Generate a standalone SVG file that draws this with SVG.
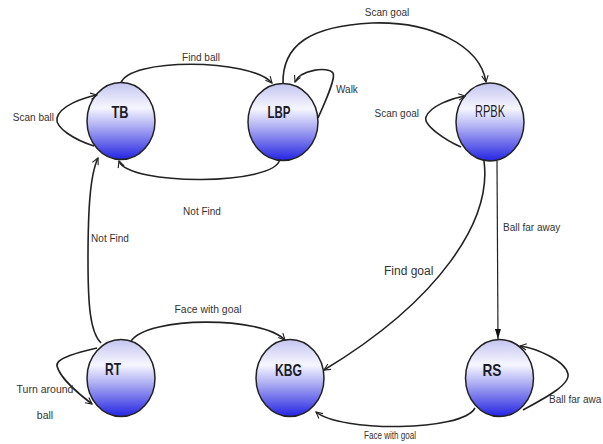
<svg xmlns="http://www.w3.org/2000/svg" width="603" height="444" viewBox="0 0 603 444">
  <defs>
    <linearGradient id="stateFill" x1="0" y1="0" x2="0" y2="1">
      <stop offset="0" stop-color="#c4c4f0"/>
      <stop offset="0.33" stop-color="#f6f6ff"/>
      <stop offset="0.55" stop-color="#b4b4f4"/>
      <stop offset="1" stop-color="#2424e2"/>
    </linearGradient>
    <marker id="arr" viewBox="0 0 10 10" refX="9" refY="5" markerWidth="8" markerHeight="8" orient="auto" markerUnits="userSpaceOnUse">
      <path d="M1,1 L9,5 L1,9" fill="none" stroke="#222" stroke-width="1.4"/>
    </marker>
    <marker id="arrFill" viewBox="0 0 10 6" refX="10" refY="3" markerWidth="10" markerHeight="6" orient="auto" markerUnits="userSpaceOnUse">
      <path d="M0,0 L10,3 L0,6 z" fill="#111"/>
    </marker>
  </defs>
  <style>
    .state { fill: url(#stateFill); stroke: #222; stroke-width: 1.5; }
    .name { font-family: "Liberation Sans", Arial, sans-serif; font-size: 17px; font-weight: bold; fill: #1c1c2a; text-anchor: middle; }
    .name.thin { font-weight: normal; }
    .edge { fill: none; stroke: #222; stroke-width: 1.6; marker-end: url(#arr); }
    .edge.solid { stroke-width: 1.2; marker-end: url(#arrFill); }
    .lbl { font-family: "Liberation Sans", Arial, sans-serif; font-size: 10px; fill: #333; }
  </style>

  <rect width="603" height="444" fill="#ffffff"/>

  <!-- states -->
  <g id="TB">
    <ellipse class="state" cx="121" cy="121" rx="34" ry="38.5"/>
    <text class="name" x="120" y="118" textLength="17" lengthAdjust="spacingAndGlyphs">TB</text>
  </g>
  <g id="LBP">
    <ellipse class="state" cx="283" cy="122" rx="35" ry="38.5"/>
    <text class="name" x="279" y="118" textLength="23" lengthAdjust="spacingAndGlyphs">LBP</text>
  </g>
  <g id="RPBK">
    <ellipse class="state" cx="490" cy="122" rx="34" ry="39"/>
    <text class="name thin" x="490" y="117" textLength="30" lengthAdjust="spacingAndGlyphs">RPBK</text>
  </g>
  <g id="RT">
    <ellipse class="state" cx="121" cy="378" rx="34" ry="38.5"/>
    <text class="name" x="113" y="375" textLength="16" lengthAdjust="spacingAndGlyphs">RT</text>
  </g>
  <g id="KBG">
    <ellipse class="state" cx="290" cy="378" rx="34" ry="38.5"/>
    <text class="name" x="288.5" y="376" textLength="27" lengthAdjust="spacingAndGlyphs">KBG</text>
  </g>
  <g id="RS">
    <ellipse class="state" cx="499.5" cy="378" rx="34" ry="38.5"/>
    <text class="name" x="492" y="376" textLength="19" lengthAdjust="spacingAndGlyphs">RS</text>
  </g>

  <!-- transitions -->
  <g id="connectors">
    <!-- TB -> LBP -->
    <path class="edge" d="M121,83 C128,58 250,58 272,83"/>
    <!-- LBP -> TB -->
    <path class="edge" d="M280,159 C276,186 128,186 119,161"/>
    <!-- TB self loop -->
    <path class="edge" d="M94,146 C75,140 55,128 57,118 C60,106 82,98 97,95"/>
    <!-- LBP self loop -->
    <path class="edge" d="M318,118 C326,100 336,78 333,73 C328,66 300,70 295,82"/>
    <!-- LBP -> RPBK -->
    <path class="edge" d="M283,84 C282,45 310,26 372,23 C430,21 480,45 486,82"/>
    <!-- RPBK self loop -->
    <path class="edge" d="M461,147 C445,140 423,125 426,117 C430,106 452,98 465,96"/>
    <!-- RPBK -> KBG -->
    <path class="edge" d="M484,161 C492,220 440,300 324,370"/>
    <!-- RPBK -> RS -->
    <path class="edge solid" d="M497,161 L498,339"/>
    <!-- RS self loop -->
    <path class="edge" d="M523,410 C545,398 570,385 568,374 C565,360 535,348 520,346"/>
    <!-- RS -> KBG -->
    <path class="edge" d="M475,408 C462,432 340,432 316,412"/>
    <!-- RT -> KBG -->
    <path class="edge" d="M131,341 C148,316 262,316 285,340"/>
    <!-- RT -> TB -->
    <path class="edge" d="M101,343 C90,332 88,305 88,260 C88,210 90,175 98,158"/>
    <!-- RT self loop -->
    <path class="edge" d="M97,348 C80,352 55,358 57,366 C60,378 80,395 92,404"/>
  </g>

  <!-- transition labels -->
  <g id="labels">
    <text class="lbl" x="201" y="61" text-anchor="middle">Find ball</text>
    <text class="lbl" x="202" y="215" text-anchor="middle">Not Find</text>
    <text class="lbl" x="54" y="121" text-anchor="end">Scan ball</text>
    <text class="lbl" x="336" y="93">Walk</text>
    <text class="lbl" x="387" y="16" text-anchor="middle">Scan goal</text>
    <text class="lbl" x="419" y="117" text-anchor="end">Scan goal</text>
    <text class="lbl" x="503" y="231">Ball far away</text>
    <text class="lbl" x="384" y="275" style="font-size:12px">Find goal</text>
    <text class="lbl" x="549" y="403">Ball far awa</text>
    <text class="lbl" x="390" y="439" text-anchor="middle" textLength="52" lengthAdjust="spacingAndGlyphs">Face with goal</text>
    <text class="lbl" x="208" y="313" text-anchor="middle" style="font-size:10.4px">Face with goal</text>
    <text class="lbl" x="110" y="242" text-anchor="middle">Not Find</text>
    <text class="lbl" x="45" y="393" text-anchor="middle" style="font-size:10.5px">Turn around</text>
    <text class="lbl" x="45" y="419" text-anchor="middle" style="font-size:10.5px">ball</text>
  </g>
</svg>
